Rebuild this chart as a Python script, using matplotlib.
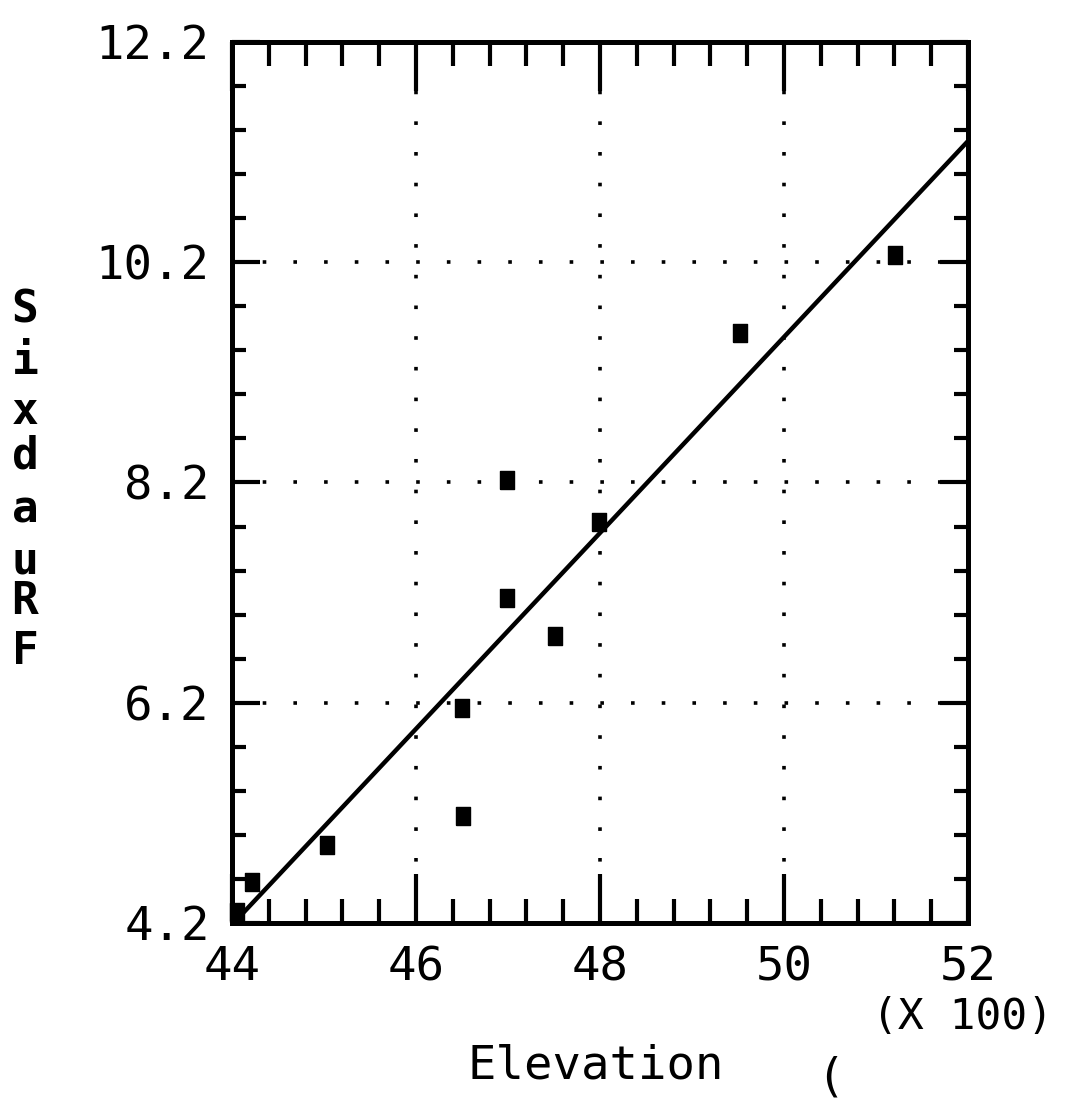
import numpy as np
import matplotlib
matplotlib.use("Agg")
import matplotlib.pyplot as plt
from matplotlib.ticker import MultipleLocator, FixedLocator

# elevation (in hundreds) and fraud index
elev = [44.05, 44.22, 45.03, 46.51, 46.50, 46.99, 46.99, 47.51, 47.99, 49.52, 51.21]
fraud = [4.30, 4.57, 4.91, 5.17, 6.15, 7.15, 8.22, 6.81, 7.84, 9.56, 10.27]

xticks = [44, 46, 48, 50, 52]
yticks = [4.2, 6.2, 8.2, 10.2, 12.2]
ylab_letters = ["S", "i", "x", "d", "a", "u", "R", "F"]
ylab_ypix = [310, 361, 412, 456, 510, 561, 601, 652]

W, H = 1078, 1100
fig = plt.figure(figsize=(W/100, H/100), dpi=100)
ax = fig.add_axes([232/W, 1 - 923/H, 736/W, 881/H])
mono = "DejaVu Sans Mono"

# regression line
b1, b0 = np.polyfit(elev, fraud, 1)
xl = np.array([44, 52])
ax.plot(xl, b0 + b1*xl, color="black", lw=3.2, zorder=3)

# rectangles as markers (taller than wide)
rect = [(-0.7, -1), (0.7, -1), (0.7, 1), (-0.7, 1), (-0.7, -1)]
ax.plot(elev, fraud, ls="none", marker=rect, ms=13.5, color="black",
        clip_on=False, zorder=4)

ax.set_xlim(44, 52)
ax.set_ylim(4.2, 12.2)
ax.xaxis.set_major_locator(FixedLocator(xticks))
ax.yaxis.set_major_locator(FixedLocator(yticks))
ax.xaxis.set_minor_locator(MultipleLocator(0.4))
ax.yaxis.set_minor_locator(FixedLocator(np.arange(4.2, 12.3, 0.4)))
ax.set_xticklabels([str(t) for t in xticks], family=mono, fontsize=34)
ax.set_yticklabels(["%.1f" % t for t in yticks], family=mono, fontsize=34)

ax.tick_params(axis="x", which="major", direction="in", length=35, width=3,
               top=True, pad=16)
ax.tick_params(axis="x", which="minor", direction="in", length=17, width=3, top=True)
ax.tick_params(axis="y", which="major", direction="in", length=20, width=3,
               right=True, pad=16)
ax.tick_params(axis="y", which="minor", direction="in", length=10, width=3, right=True)

for s in ax.spines.values():
    s.set_linewidth(3.6)

ax.grid(True, which="major", color="black", lw=2.6, ls=(0, (1, 7.5)))

# labels
fig.text(963/W, 1 - 1017/H, "(X 100)", family=mono, fontsize=31,
         ha="center", va="center")
fig.text(468/W, 1 - 1066/H, "Elevation", family=mono, fontsize=34,
         ha="left", va="center")
fig.text(830/W, 1 - 1078/H, "(", family=mono, fontsize=34,
         ha="center", va="center")
for ch, yp in zip(ylab_letters, ylab_ypix):
    fig.text(25/W, 1 - yp/H, ch, family=mono, fontsize=32, fontweight="bold",
             ha="center", va="center")

fig.savefig("out.png", dpi=100)
